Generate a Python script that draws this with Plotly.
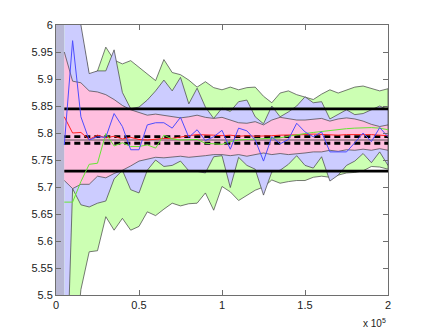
import plotly.graph_objects as go

# sample positions (every 5000 up to 2e5)
x_vals = [5000 * k for k in range(1, 41)]

# outer (green) band
green_hi = [6.50, 6.20, 5.99, 5.905, 5.915, 5.959, 5.935, 5.928, 5.934, 5.922,
            5.910, 5.897, 5.936, 5.912, 5.908, 5.898, 5.885, 5.895, 5.884, 5.880,
            5.885, 5.880, 5.884, 5.885, 5.868, 5.856, 5.874, 5.878, 5.871, 5.867,
            5.862, 5.872, 5.880, 5.874, 5.880, 5.885, 5.887, 5.882, 5.878, 5.882]
green_lo = [5.00, 5.35, 5.51, 5.580, 5.582, 5.645, 5.620, 5.642, 5.620, 5.627,
            5.654, 5.647, 5.659, 5.670, 5.665, 5.669, 5.670, 5.689, 5.657, 5.701,
            5.691, 5.675, 5.685, 5.694, 5.700, 5.713, 5.707, 5.710, 5.712, 5.712,
            5.718, 5.720, 5.718, 5.722, 5.726, 5.727, 5.730, 5.738, 5.737, 5.733]

# middle (lavender) band
blue_hi = [6.40, 6.15, 6.00, 5.910, 5.915, 5.915, 5.954, 5.875, 5.845, 5.848,
           5.861, 5.878, 5.898, 5.878, 5.903, 5.854, 5.883, 5.848, 5.827, 5.846,
           5.840, 5.858, 5.861, 5.830, 5.817, 5.850, 5.830, 5.839, 5.850, 5.867,
           5.856, 5.858, 5.826, 5.834, 5.843, 5.834, 5.836, 5.843, 5.850, 5.843]
blue_lo = [5.20, 5.697, 5.667, 5.663, 5.670, 5.674, 5.715, 5.731, 5.695, 5.689,
           5.731, 5.750, 5.738, 5.740, 5.748, 5.730, 5.729, 5.726, 5.756, 5.758,
           5.699, 5.755, 5.740, 5.733, 5.685, 5.728, 5.731, 5.742, 5.758, 5.740,
           5.735, 5.756, 5.711, 5.722, 5.740, 5.748, 5.762, 5.745, 5.765, 5.740]

# inner (pink) band
pink_hi = [5.950, 5.896, 5.893, 5.878, 5.876, 5.871, 5.862, 5.851, 5.843, 5.838,
           5.833, 5.835, 5.833, 5.830, 5.828, 5.830, 5.833, 5.829, 5.827, 5.829,
           5.824, 5.819, 5.818, 5.821, 5.815, 5.824, 5.829, 5.827, 5.824, 5.824,
           5.826, 5.827, 5.822, 5.826, 5.828, 5.826, 5.822, 5.816, 5.812, 5.815]
pink_lo = [5.712, 5.697, 5.705, 5.705, 5.720, 5.717, 5.725, 5.731, 5.739, 5.748,
           5.752, 5.755, 5.754, 5.756, 5.757, 5.755, 5.757, 5.758, 5.760, 5.760,
           5.758, 5.760, 5.757, 5.760, 5.763, 5.760, 5.762, 5.760, 5.762, 5.763,
           5.765, 5.765, 5.768, 5.766, 5.769, 5.768, 5.770, 5.768, 5.771, 5.768]

# thin series
red_line = [5.830, 5.800, 5.801, 5.788, 5.796, 5.791, 5.794, 5.789, 5.792, 5.788,
            5.787, 5.789, 5.790, 5.790, 5.793, 5.795, 5.797, 5.797, 5.796, 5.795,
            5.796, 5.794, 5.795, 5.794, 5.794, 5.795, 5.796, 5.796, 5.797, 5.797,
            5.798, 5.797, 5.797, 5.796, 5.797, 5.797, 5.798, 5.797, 5.796, 5.795]
blue_line = [5.778, 5.971, 5.830, 5.787, 5.793, 5.792, 5.836, 5.812, 5.769, 5.769,
             5.815, 5.819, 5.819, 5.809, 5.829, 5.792, 5.806, 5.786, 5.793, 5.805,
             5.770, 5.809, 5.804, 5.787, 5.748, 5.793, 5.780, 5.788, 5.818, 5.802,
             5.793, 5.802, 5.765, 5.765, 5.765, 5.782, 5.800, 5.784, 5.810, 5.793]
green_line = [5.672, 5.672, 5.710, 5.742, 5.744, 5.799, 5.776, 5.782, 5.775, 5.775,
              5.778, 5.772, 5.796, 5.789, 5.787, 5.788, 5.788, 5.781, 5.780, 5.779,
              5.784, 5.787, 5.788, 5.789, 5.789, 5.790, 5.791, 5.794, 5.797, 5.799,
              5.801, 5.803, 5.805, 5.806, 5.808, 5.809, 5.810, 5.810, 5.809, 5.806]

# reference levels
solid_levels = [5.8445, 5.7295]
dashed_levels = [5.7932, 5.7810]
mean_level = 5.787

# first interval strip (0 .. first sample)
strip_x = [0, 5000]
strip_y = [5.5, 6.0]

EDGE = '#404040'

fig = go.Figure()

fig.add_trace(go.Scatter(
    x=[strip_x[0], strip_x[1], strip_x[1], strip_x[0]],
    y=[strip_y[0], strip_y[0], strip_y[1], strip_y[1]],
    fill='toself', fillcolor='#B8B8D4', line=dict(width=0), mode='lines'))

for hi, lo, col in [(green_hi, green_lo, '#CCFFB3'),
                    (blue_hi, blue_lo, '#CCCCFF'),
                    (pink_hi, pink_lo, '#FFBFDF')]:
    fig.add_trace(go.Scatter(
        x=x_vals + x_vals[::-1], y=hi + lo[::-1],
        fill='toself', fillcolor=col, mode='lines',
        line=dict(color=EDGE, width=0.7)))

ends = [x_vals[0], x_vals[-1]]
fig.add_trace(go.Scatter(x=ends, y=[mean_level] * 2, mode='lines',
                         line=dict(color='#333333', width=0.8)))
for lv in solid_levels:
    fig.add_trace(go.Scatter(x=ends, y=[lv] * 2, mode='lines',
                             line=dict(color='black', width=2.8)))
for lv in dashed_levels:
    fig.add_trace(go.Scatter(x=ends, y=[lv] * 2, mode='lines',
                             line=dict(color='black', width=2.8, dash='6px,4px')))

fig.add_trace(go.Scatter(x=x_vals, y=red_line, mode='lines',
                         line=dict(color='#FF2020', width=1)))
fig.add_trace(go.Scatter(x=x_vals, y=green_line, mode='lines',
                         line=dict(color='#66E633', width=1)))
fig.add_trace(go.Scatter(x=x_vals, y=blue_line, mode='lines',
                         line=dict(color='#4D4DFF', width=1)))

axis_common = dict(showgrid=False, zeroline=False, showline=True, mirror='ticks',
                   linecolor='#6E6E6E', linewidth=1, ticks='inside', ticklen=5,
                   tickcolor='#6E6E6E',
                   tickfont=dict(family='Liberation Sans, Arial', size=11, color='#222222'))

# page body adds an 8px offset, so margins are shifted by that amount
fig.update_layout(
    width=429, height=332,
    margin=dict(l=48, r=49, t=17, b=45),
    paper_bgcolor='white', plot_bgcolor='white',
    showlegend=False,
    xaxis=dict(range=[0, 200000], tickvals=[0, 50000, 100000, 150000, 200000],
               ticktext=['0', '0.5', '1', '1.5', '2'], **axis_common),
    yaxis=dict(range=[5.5, 6.0], tickvals=[5.5 + 0.05 * i for i in range(11)],
               ticktext=['5.5', '5.55', '5.6', '5.65', '5.7', '5.75', '5.8',
                         '5.85', '5.9', '5.95', '6'], **axis_common),
    annotations=[dict(text='x 10<sup>5</sup>', x=1.0, y=-0.075, xref='paper', yref='paper',
                      xanchor='right', yanchor='top', showarrow=False,
                      font=dict(family='Liberation Sans, Arial', size=10, color='#222222'))],
)

fig.write_html("out.html")
